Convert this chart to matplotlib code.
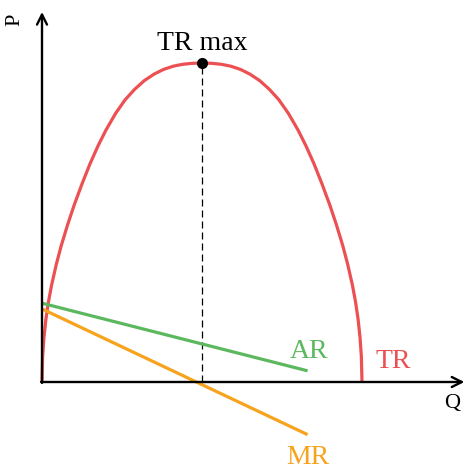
import matplotlib
matplotlib.use("Agg")
import matplotlib.pyplot as plt

# Total revenue curve (quantity, revenue)
q_tr = [0, 0.02, 0.06, 0.12, 0.2, 0.3, 0.45, 0.6, 0.8, 1.0, 1.25, 1.5, 1.75, 2.0, 2.3, 2.6, 2.9, 3.2, 3.5,
        3.8, 4.1, 4.4, 4.7, 5.0, 5.3, 5.6, 5.9, 6.2, 6.5, 6.8, 7.1, 7.4, 7.7, 8.0, 8.25, 8.5, 8.75, 9.0, 9.2,
        9.4, 9.55, 9.7, 9.8, 9.88, 9.94, 9.98, 10.0]
tr = [0, 0.8, 1.38, 1.95, 2.5, 3.04, 3.7, 4.27, 4.93, 5.53, 6.21, 6.84, 7.4, 7.9, 8.42, 8.85, 9.18, 9.45, 9.65,
      9.8, 9.9, 9.96, 9.99, 10.0, 9.99, 9.96, 9.9, 9.8, 9.65, 9.45, 9.18, 8.85, 8.42, 7.9, 7.4, 6.84, 6.21,
      5.53, 4.93, 4.27, 3.7, 3.04, 2.5, 1.95, 1.38, 0.8, 0]

# Average and marginal revenue lines
q_lines = [0, 8.3]
ar = [2.47, 0.35]
mr = [2.29, -1.65]

q_max, tr_max = 5.0, 10.0

red = "#ec5052"
green = "#5cb85f"
orange = "#f7a31e"
font = "Liberation Serif"

fig = plt.figure(figsize=(4.65, 4.7), dpi=100)
ax = fig.add_axes([0, 0, 1, 1])
ax.set_xlim(-42 / 32, 423 / 32)
ax.set_ylim(-88 / 31.9, 382 / 31.9)
ax.axis("off")

# axes with arrow heads
arrow = dict(arrowstyle="->", lw=1.7, color="black", mutation_scale=18, shrinkA=0, shrinkB=0)
ax.annotate("", xy=(13.2, 0), xytext=(-0.03, 0), arrowprops=arrow)
ax.annotate("", xy=(0, 11.6), xytext=(0, -0.03), arrowprops=arrow)

ax.plot([q_max, q_max], [0, tr_max], color="black", lw=0.9, ls=(0, (5.6, 3.2)))
ax.plot(q_tr, tr, color=red, lw=2.3, solid_capstyle="butt", solid_joinstyle="round")
ax.plot(q_lines, ar, color=green, lw=2.3, solid_capstyle="butt")
ax.plot(q_lines, mr, color=orange, lw=2.3, solid_capstyle="butt")
ax.plot([q_max], [tr_max], "o", color="black", ms=7)

ax.text(q_max, 10.6, "TR max", ha="center", va="center", fontsize=20, family=font)
ax.text(8.34, 0.97, "AR", ha="center", va="center", fontsize=20, family=font, color=green)
ax.text(10.97, 0.63, "TR", ha="center", va="center", fontsize=20, family=font, color=red)
ax.text(8.31, -2.38, "MR", ha="center", va="center", fontsize=20, family=font, color=orange)
ax.text(12.81, -0.66, "Q", ha="center", va="center", fontsize=16, family=font)
ax.text(-0.84, 11.35, "P", ha="center", va="center", fontsize=16, family=font, rotation=90)

fig.savefig("out.png", dpi=100)
